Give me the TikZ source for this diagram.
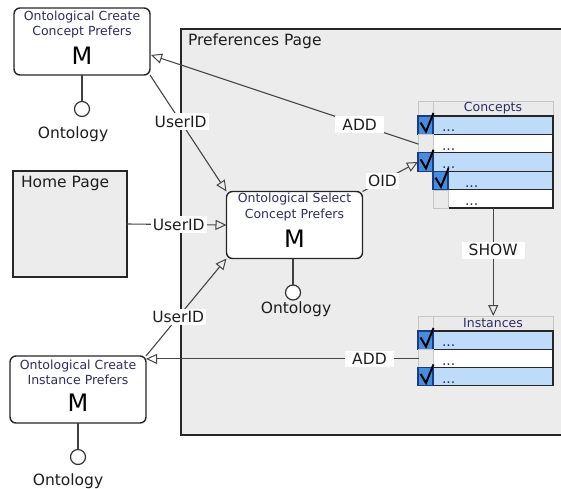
\documentclass[tikz,border=0pt]{standalone}
\usepackage{fontspec}
\setmainfont{DejaVu Sans}
\usetikzlibrary{arrows.meta,calc}

\definecolor{pagegray}{RGB}{236,236,236}
\definecolor{rowblue}{RGB}{191,219,250}
\definecolor{boxblue}{RGB}{72,140,222}
\definecolor{boxedge}{RGB}{25,60,130}
\definecolor{linegray}{RGB}{70,70,70}
\definecolor{titleink}{RGB}{45,45,100}
\definecolor{headgray}{RGB}{234,234,234}
\definecolor{headedge}{RGB}{198,198,198}
\definecolor{ink}{RGB}{30,30,30}

\begin{document}
\begin{tikzpicture}[x=1pt,y=-1pt,
  every node/.style={inner sep=0pt, outer sep=0pt},
  module/.style={draw=black!85, line width=1.4pt, rounded corners=6pt, fill=white,
    minimum width=136pt, minimum height=67pt},
  mtitle/.style={font=\fontsize{12.5}{15.5}\selectfont, text=titleink, align=center},
  mletter/.style={font=\fontsize{24}{28}\selectfont, text=black},
  socket/.style={circle, draw=black!80, line width=1.2pt, fill=white, minimum size=15pt},
  stem/.style={draw=black!75, line width=1.3pt},
  onto/.style={font=\fontsize{15.5}{18}\selectfont, text=ink, anchor=base},
  pagebox/.style={draw=black!85, line width=1.3pt, fill=pagegray, anchor=north west},
  pagetitle/.style={font=\fontsize{15.5}{18}\selectfont, text=ink, anchor=base west},
  conn/.style={draw=linegray, line width=1.1pt,
    -{Triangle[open, length=11pt, width=10pt, line width=1pt]}},
  lbl/.style={fill=white, inner xsep=2pt, inner ysep=2.5pt,
    font=\fontsize{15.5}{18}\selectfont, text=ink},
  widelbl/.style={lbl, inner xsep=7pt},
  cell/.style={anchor=north west, draw=black!85, line width=1.2pt, minimum height=18.4pt},
  onrow/.style={cell, fill=rowblue, minimum width=#1},
  offrow/.style={cell, fill=white, minimum width=#1},
  tick/.style={anchor=north west, draw=boxedge, line width=1.2pt, fill=boxblue,
    minimum width=15pt, minimum height=18.4pt},
  notick/.style={anchor=north west, draw=headedge, line width=1pt, fill=headgray,
    minimum width=15pt, minimum height=18.4pt},
  checkmark/.style={draw=black, line width=2pt, line join=miter},
  headcell/.style={anchor=north west, draw=headedge, line width=0.8pt, fill=headgray,
    minimum height=15pt, font=\fontsize{12.5}{15}\selectfont, text=titleink},
  dots/.style={anchor=base west, font=\fontsize{14}{16}\selectfont, text=titleink}
]
\useasboundingbox (0,0) rectangle (561,488);
\clip (0,0) rectangle (561,488);
\fill[white] (0,0) rectangle (561,488);

% ---- pages ----
\node[pagebox, minimum width=400pt, minimum height=406pt] (pref) at (181,29) {};
\node[pagetitle] (preft) at (188,45) {Preferences Page};
\node[pagebox, minimum width=114pt, minimum height=106pt] (home) at (13,171) {};
\node[pagetitle] (homet) at (21,187) {Home Page};

% ---- modules ----
\node[module] (cc) at (82,41.5) {};
\node[mtitle] (cct) at ($(cc.north)+(0,16.5)$) {Ontological Create\\Concept Prefers};
\node[mletter] (ccm) at ($(cc.north)+(0,48)$) {M};
\node[socket] (cco) at ($(cc.south)+(0,34)$) {};
\draw[stem] (cc.south) -- (cco.north);
\node[onto] (ccl) at (73,138) {Ontology};

\node[module] (sc) at (294.5,225) {};
\node[mtitle] (sct) at ($(sc.north)+(0,15.5)$) {Ontological Select\\Concept Prefers};
\node[mletter] (scm) at ($(sc.north)+(0,47)$) {M};
\node[socket] (sco) at ($(sc.south)+(-1.5,34)$) {};
\draw[stem] (sc.south -| sco.north) -- (sco.north);
\node[onto] (scl) at (296,313) {Ontology};

\node[module] (ci) at (78,389.5) {};
\node[mtitle] (cit) at ($(ci.north)+(0,16.5)$) {Ontological Create\\Instance Prefers};
\node[mletter] (cim) at ($(ci.north)+(0,47)$) {M};
\node[socket] (cio) at ($(ci.south)+(0,34)$) {};
\draw[stem] (ci.south) -- (cio.north);
\node[onto] (cil) at (68,485) {Ontology};

% ---- Concepts table ----
\node[headcell, minimum width=15pt] (chk) at (418,101) {};
\node[headcell, minimum width=120pt] (chc) at (433,101) {Concepts};
\node[onrow=120pt]  (c1) at (433,116) {};
\node[offrow=120pt] (c2) at (433,134.4) {};
\node[onrow=120pt]  (c3) at (433,152.8) {};
\node[onrow=105pt]  (c4) at (448,171.2) {};
\node[offrow=105pt] (c5) at (448,189.6) {};
\node[tick]   (k1) at (418,116) {};
\node[notick] (k2) at (418.5,134.9) {};
\node[tick]   (k3) at (418,152.8) {};
\node[tick]   (k4) at (433,171.2) {};
\node[notick] (k5) at (433.5,190.1) {};
\foreach \k in {k1,k3,k4}
  \draw[checkmark] (\k.north west) ++(2.5,6.5) -- ++(5.5,9) -- ++(7.5,-18.5);
\foreach \c in {c1,c2,c3}
  \node[dots] at ($(\c.south west)+(9,-2.5)$) {...};
\foreach \c in {c4,c5}
  \node[dots] at ($(\c.south west)+(17,-2.5)$) {...};

% ---- Instances table ----
\node[headcell, minimum width=15pt] (ihk) at (418,316) {};
\node[headcell, minimum width=120pt] (ihc) at (433,316) {Instances};
\node[onrow=120pt]  (i1) at (433,331) {};
\node[offrow=120pt] (i2) at (433,349.2) {};
\node[onrow=120pt]  (i3) at (433,367.4) {};
\node[tick]   (j1) at (418,331) {};
\node[notick] (j2) at (418.5,349.7) {};
\node[tick]   (j3) at (418,367.4) {};
\foreach \k in {j1,j3}
  \draw[checkmark] (\k.north west) ++(2.5,6.5) -- ++(5.5,9) -- ++(7.5,-18.5);
\foreach \c in {i1,i2,i3}
  \node[dots] at ($(\c.south west)+(9,-2.5)$) {...};

% ---- connectors ----
\draw[conn] (k2.west) -- node[widelbl, pos=0.22] (add1) {ADD} ($(cc.east)+(1,13.5)$);
\draw[conn] (cc.south east) -- node[lbl, pos=0.4] (uid1) {UserID} (sc.north west);
\draw[conn] (home.east) -- node[lbl, pos=0.52] (uid2) {UserID} (sc.west);
\draw[conn] (ci.north east) -- node[lbl, pos=0.4] (uid3) {UserID} (sc.south west);
\draw[conn] (sc.north east) -- node[lbl, pos=0.36] (oid) {OID} (k3.west);
\coordinate (showtop) at ($(k5.south west)!0.5!(c5.south east)$);
\draw[conn] (showtop) -- node[widelbl, pos=0.39] (show) {SHOW} (showtop |- ihc.north);
\draw[conn] (j2.west) -- node[widelbl, pos=0.18] (add2) {ADD} (j2.west -| ci.east);
\end{tikzpicture}
\end{document}
